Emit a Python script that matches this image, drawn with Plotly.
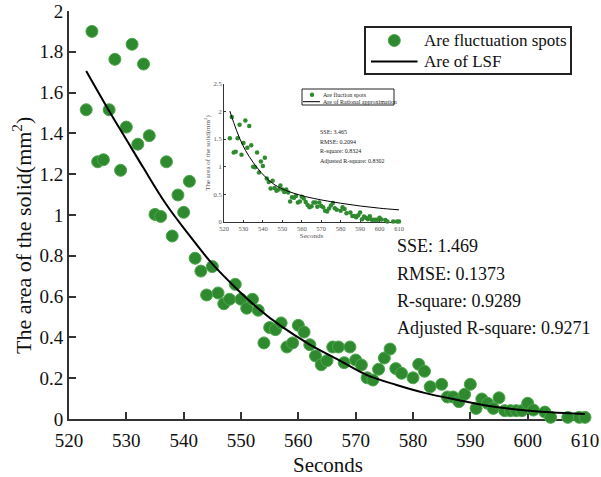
import plotly.graph_objects as go

# Measured solid area over time
seconds = [523, 524, 525, 526, 527, 528, 529, 530, 531, 532, 533, 534,
           535, 536, 537, 538, 539, 540, 541, 542, 543, 544,
           545, 546, 547, 548, 549, 550, 551, 552, 553,
           554, 555, 556, 557, 558, 559, 560, 561, 562, 563, 564, 565, 566,
           567, 568, 569, 570, 571, 572, 573, 574, 575, 576, 577, 578,
           580, 581, 582, 583,
           585, 586, 587, 588, 589, 590, 591, 592, 593, 594, 595, 596, 597,
           598, 599, 600, 601,
           603, 604, 607, 609, 610]
area = [1.516, 1.90, 1.261, 1.271, 1.516, 1.763, 1.219, 1.431, 1.837, 1.347, 1.74, 1.389,
        1.003, 0.993, 1.261, 0.897, 1.098, 1.013, 1.165, 0.788, 0.725, 0.608,
        0.747, 0.618, 0.565, 0.587, 0.66, 0.587, 0.543, 0.587, 0.533,
        0.373, 0.448, 0.438, 0.471, 0.353, 0.373, 0.459, 0.426, 0.364, 0.309, 0.266, 0.286, 0.353,
        0.353, 0.276, 0.353, 0.289, 0.265, 0.202, 0.191, 0.244, 0.299, 0.343, 0.247, 0.224,
        0.202, 0.268, 0.234, 0.158,
        0.17, 0.108, 0.108, 0.085, 0.121, 0.17, 0.052, 0.098, 0.077, 0.052, 0.104, 0.041, 0.041,
        0.041, 0.041, 0.077, 0.044,
        0.034, 0.008, 0.008, 0.008, 0.008]

# Least-squares fit curve
lsf_x = [523, 527, 530, 533, 537, 541, 545, 549, 553, 557, 562, 567, 572, 577, 582, 588, 593, 598, 604, 610]
lsf_y = [1.706, 1.51, 1.37, 1.23, 1.05, 0.90, 0.76, 0.645, 0.542, 0.455, 0.365, 0.29, 0.215, 0.168,
         0.128, 0.092, 0.065, 0.047, 0.033, 0.025]

# Rational approximation curve (inset)
rat_x = [523, 525, 528, 531, 535, 539, 545, 550, 556, 562, 570, 580, 590, 600, 610]
rat_y = [2.01, 1.80, 1.52, 1.30, 1.08, 0.90, 0.70, 0.60, 0.52, 0.46, 0.40, 0.34, 0.29, 0.25, 0.22]

main_stats = ["SSE: 1.469", "RMSE: 0.1373", "R-square: 0.9289", "Adjusted R-square: 0.9271"]
inset_stats = ["SSE: 3.465", "RMSE: 0.2094", "R-square: 0.8324", "Adjusted R-square: 0.8302"]
main_legend = ["Are fluctuation spots", "Are of LSF"]
inset_legend = ["Are fluction spots", "Are of Rational approximation"]
y_title = "The area of the solid(mm<sup>2</sup>)"

x_ticks = list(range(520, 611, 10))
y_ticks = [0, 0.2, 0.4, 0.6, 0.8, 1.0, 1.2, 1.4, 1.6, 1.8, 2.0]
y_tick_text = ["0", "0.2", "0.4", "0.6", "0.8", "1", "1.2", "1.4", "1.6", "1.8", "2"]
y2_ticks = [0, 0.5, 1.0, 1.5, 2.0, 2.5]
y2_tick_text = ["0", "0.5", "1", "1.5", "2", "2.5"]

FONT = "Liberation Serif, Times New Roman, Times, serif"
GREEN = "#2f8a2f"
GREEN_EDGE = "#4ea64e"
AXIS = "#333333"
TEXT = "#111111"

W, H = 601, 477
ML, MR, MT, MB = 69, 16, 11, 58
PW, PH = W - ML - MR, H - MT - MB


def px_x(p):
    return (p - ML) / PW


def px_y(p):
    return (H - MB - p) / PH


def note(x, y, text, size, color=TEXT, xanchor="left", angle=0):
    return dict(x=px_x(x), y=px_y(y), xref="paper", yref="paper",
                xanchor=xanchor, yanchor="middle", showarrow=False, text=text,
                textangle=angle, font=dict(family=FONT, size=size, color=color))


fig = go.Figure()

fig.add_trace(go.Scatter(
    x=seconds, y=area, mode="markers", name=main_legend[0], showlegend=False,
    marker=dict(size=12, color=GREEN, line=dict(color=GREEN_EDGE, width=1)),
    cliponaxis=False,
))
fig.add_trace(go.Scatter(
    x=lsf_x, y=lsf_y, mode="lines", name=main_legend[1], showlegend=False,
    line=dict(color="black", width=2, shape="spline"),
))

# Inset: same data against the rational approximation
fig.add_trace(go.Scatter(
    x=seconds, y=area, mode="markers", xaxis="x2", yaxis="y2",
    name=inset_legend[0], showlegend=False,
    marker=dict(size=4.5, color=GREEN, line=dict(width=0)), cliponaxis=False,
))
fig.add_trace(go.Scatter(
    x=rat_x, y=rat_y, mode="lines", xaxis="x2", yaxis="y2",
    name=inset_legend[1], showlegend=False,
    line=dict(color="black", width=1, shape="spline"),
))

axis_common = dict(showgrid=False, zeroline=False, showline=True, mirror=False,
                   ticks="inside", layer="below traces", automargin=False)

annotations = []
# Fit statistics
for i, txt in enumerate(main_stats):
    annotations.append(note(395, 246.5 + i * 27.3, txt, 18))
for i, txt in enumerate(inset_stats):
    annotations.append(note(318, 132.3 + i * 9.5, txt, 6, "#222"))

# Main axis titles
annotations.append(note(22, 236, y_title, 22, angle=-90, xanchor="center"))
annotations.append(note(327.5, 465, "Seconds", 21, xanchor="center"))

# Legends, drawn by hand to keep their boxes compact
annotations.append(note(422, 40.5, main_legend[0], 17))
annotations.append(note(422, 61.5, main_legend[1], 17))
annotations.append(note(320.5, 94.7, inset_legend[0], 6, "#222"))
annotations.append(note(320.5, 101.7, inset_legend[1], 6, "#222"))

shapes = [
    # main legend
    dict(type="rect", xref="paper", yref="paper",
         x0=px_x(365), x1=px_x(571), y0=px_y(74), y1=px_y(27),
         line=dict(color="#222", width=2), fillcolor="white", layer="above"),
    dict(type="circle", xref="paper", yref="paper", xsizemode="pixel", ysizemode="pixel",
         xanchor=px_x(394.3), yanchor=px_y(40.5), x0=-6, x1=6, y0=-6, y1=6,
         line=dict(color=GREEN_EDGE, width=1), fillcolor=GREEN),
    dict(type="line", xref="paper", yref="paper",
         x0=px_x(371), x1=px_x(417.5), y0=px_y(61.5), y1=px_y(61.5),
         line=dict(color="black", width=2)),
    # inset legend
    dict(type="rect", xref="paper", yref="paper",
         x0=px_x(302), x1=px_x(394), y0=px_y(105), y1=px_y(89),
         line=dict(color="#222", width=1), fillcolor="white", layer="above"),
    dict(type="circle", xref="paper", yref="paper", xsizemode="pixel", ysizemode="pixel",
         xanchor=px_x(312), yanchor=px_y(94.7), x0=-2.2, x1=2.2, y0=-2.2, y1=2.2,
         line=dict(width=0), fillcolor=GREEN),
    dict(type="line", xref="paper", yref="paper",
         x0=px_x(303), x1=px_x(320), y0=px_y(101.7), y1=px_y(101.7),
         line=dict(color="black", width=1)),
]

fig.update_layout(
    width=W, height=H,
    margin=dict(l=ML, r=MR, t=MT, b=MB, pad=0, autoexpand=False),
    paper_bgcolor="white", plot_bgcolor="white",
    font=dict(family=FONT, color=TEXT),
    showlegend=False,
    xaxis=dict(
        **axis_common, range=[520, 610], tickvals=x_ticks,
        ticklen=7, tickwidth=2, tickcolor=AXIS, linewidth=2, linecolor=AXIS,
        tickfont=dict(family=FONT, size=19, color=TEXT),
        ticklabelstandoff=3,
    ),
    yaxis=dict(
        **axis_common, range=[0, 2], tickvals=y_ticks, ticktext=y_tick_text,
        ticklen=7, tickwidth=2, tickcolor=AXIS, linewidth=2, linecolor=AXIS,
        tickfont=dict(family=FONT, size=19, color=TEXT),
        ticklabelstandoff=0,
    ),
    xaxis2=dict(
        **axis_common, domain=[px_x(224), px_x(399)], anchor="y2",
        range=[520, 610], tickvals=x_ticks,
        ticklen=2, tickwidth=1, tickcolor=AXIS, linewidth=1, linecolor=AXIS,
        tickfont=dict(family=FONT, size=6.5, color="#555"),
        title=dict(text="Seconds", font=dict(family=FONT, size=7, color="#555"), standoff=2),
    ),
    yaxis2=dict(
        **axis_common, domain=[px_y(222), px_y(84)], anchor="x2",
        range=[0, 2.5], tickvals=y2_ticks, ticktext=y2_tick_text,
        ticklen=2, tickwidth=1, tickcolor=AXIS, linewidth=1, linecolor=AXIS,
        tickfont=dict(family=FONT, size=6.5, color="#555"),
        title=dict(text=y_title, font=dict(family=FONT, size=7, color="#555"), standoff=2),
    ),
    annotations=annotations,
    shapes=shapes,
)

fig.write_html("out.html")
